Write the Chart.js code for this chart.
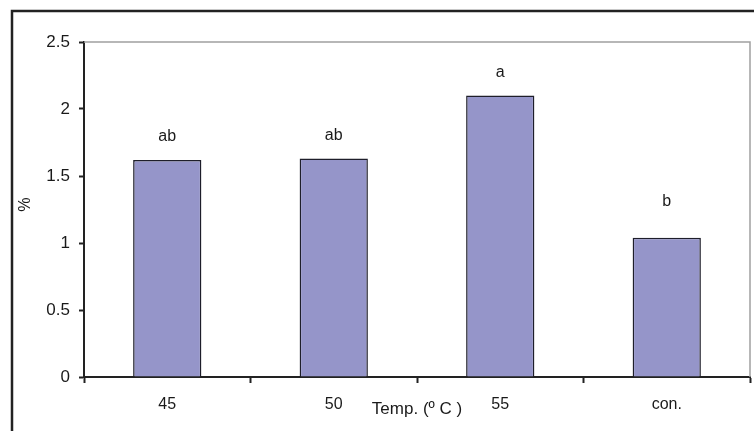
<!DOCTYPE html>
<html>
<head>
<meta charset="utf-8">
<script src="https://cdn.jsdelivr.net/npm/chart.js@4/dist/chart.umd.min.js"></script>
<style>
  html, body { margin: 0; padding: 0; background: #fff; }
  #chart_bar { display: block; }
</style>
</head>
<body>
<canvas id="chart_bar" width="754" height="431"></canvas>
<script>
// data
const categories = ["45", "50", "55", "con."];
const values = [1.62, 1.63, 2.1, 1.04];
const letters = ["ab", "ab", "a", "b"];
const yTicks = [0, 0.5, 1, 1.5, 2, 2.5];
const xTitle = "Temp. (º C )";
const yTitle = "%";

const FONT = "'Liberation Sans', Arial, sans-serif";

// frame, plot border, letters and axis titles
const extras = {
  id: "extras",
  beforeDraw(chart) {
    const ctx = chart.ctx;
    ctx.save();
    ctx.fillStyle = "#fff";
    ctx.fillRect(0, 0, chart.width, chart.height);
    ctx.strokeStyle = "#222";
    ctx.lineWidth = 2.5;
    ctx.beginPath();
    ctx.moveTo(12, chart.height);
    ctx.lineTo(12, 11);
    ctx.lineTo(chart.width, 11);
    ctx.stroke();
    ctx.restore();
  },
  afterDraw(chart) {
    const ctx = chart.ctx;
    const area = chart.chartArea;
    ctx.save();
    ctx.strokeStyle = "#a0a0a0";
    ctx.lineWidth = 1.5;
    ctx.beginPath();
    ctx.moveTo(area.left, area.top);
    ctx.lineTo(area.right, area.top);
    ctx.lineTo(area.right, area.bottom);
    ctx.stroke();

    ctx.fillStyle = "#1a1a1a";
    ctx.font = "16px " + FONT;
    ctx.textAlign = "center";
    ctx.textBaseline = "bottom";
    const meta = chart.getDatasetMeta(0);
    meta.data.forEach(function (bar, i) {
      const gap = letters[i] === "b" ? 28 : 15;
      ctx.fillText(letters[i], bar.x, bar.y - gap);
    });

    const xs = chart.scales.x;
    ctx.textBaseline = "middle";
    ctx.font = "17px " + FONT;
    ctx.fillText(xTitle, (xs.getPixelForValue(1) + xs.getPixelForValue(2)) / 2, 409);

    ctx.font = "16px " + FONT;
    ctx.translate(22, (area.top + area.bottom) / 2 - 5);
    ctx.rotate(Math.PI / 2);
    ctx.fillText(yTitle, 0, 0);
    ctx.restore();
  },
};

new Chart(document.getElementById("chart_bar"), {
  type: "bar",
  data: {
    labels: categories,
    datasets: [
      {
        data: values,
        backgroundColor: "#9595c9",
        borderColor: "#1e1e2a",
        borderWidth: 1.5,
        barPercentage: 0.41,
        categoryPercentage: 1,
      },
    ],
  },
  options: {
    responsive: false,
    animation: false,
    layout: {
      padding: { left: 0, top: 42, right: 4, bottom: 0 },
    },
    plugins: {
      legend: { display: false },
      tooltip: { enabled: false },
    },
    scales: {
      x: {
        afterFit(scale) {
          scale.height = 54;
        },
        grid: {
          offset: true,
          drawOnChartArea: false,
          tickLength: 6,
          tickColor: "#222",
          tickWidth: 2,
        },
        border: { color: "#222", width: 2 },
        ticks: {
          color: "#1a1a1a",
          padding: 12,
          font: { size: 16, family: FONT },
        },
      },
      y: {
        min: 0,
        max: 2.5,
        afterFit(scale) {
          scale.width = 84;
        },
        afterBuildTicks(scale) {
          scale.ticks = yTicks.map(function (v) {
            return { value: v };
          });
        },
        grid: {
          drawOnChartArea: false,
          tickLength: 5,
          tickColor: "#222",
          tickWidth: 2,
        },
        border: { color: "#222", width: 2 },
        ticks: {
          color: "#1a1a1a",
          padding: 9,
          font: { size: 17, family: FONT },
          callback: function (v) {
            return String(v);
          },
        },
      },
    },
  },
  plugins: [extras],
});
</script>
</body>
</html>
